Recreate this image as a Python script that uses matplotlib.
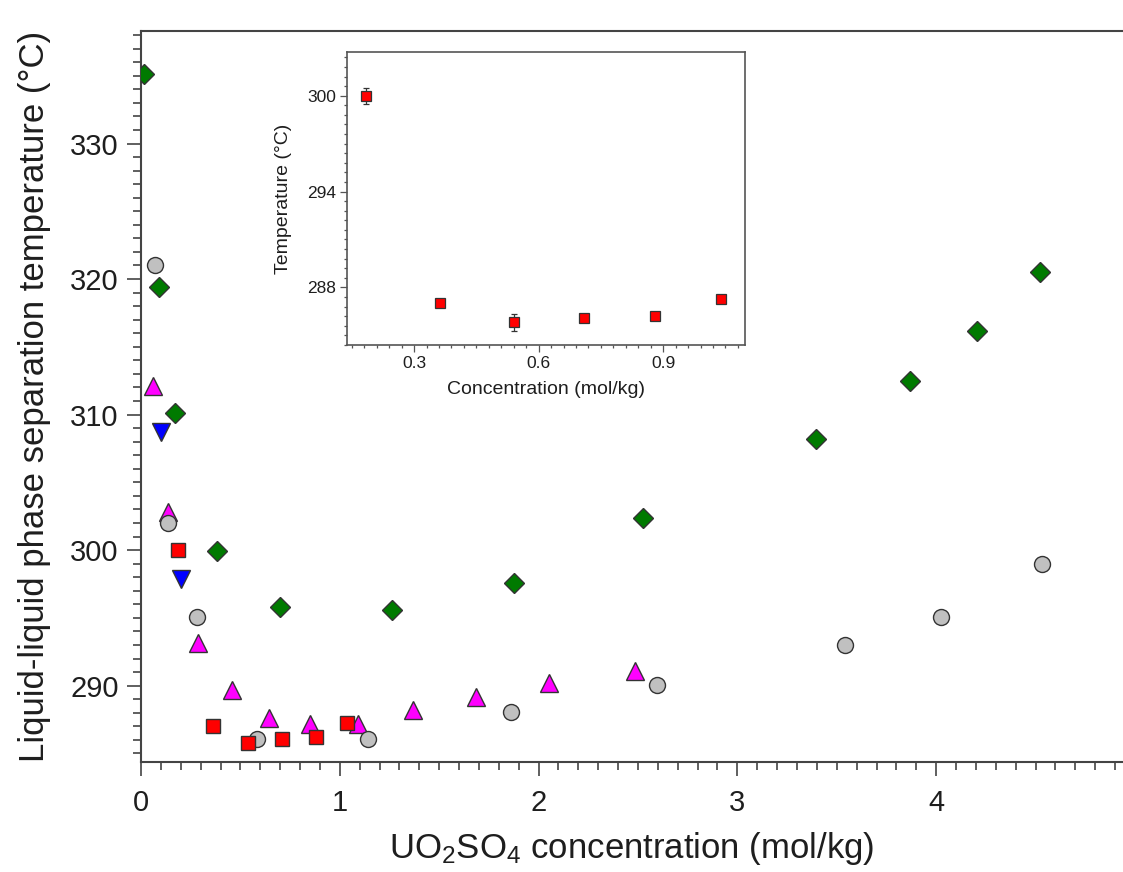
import matplotlib
matplotlib.use("Agg")
import matplotlib.pyplot as plt
from matplotlib.ticker import MultipleLocator

plt.rcParams['font.family'] = ['Liberation Sans', 'DejaVu Sans']
plt.rcParams['mathtext.fontset'] = 'custom'
plt.rcParams['mathtext.rm'] = 'Liberation Sans'
plt.rcParams['mathtext.it'] = 'Liberation Sans:italic'

# ---- data ----
diamond_x = [0.015, 0.089, 0.171, 0.38, 0.70, 1.265, 1.877, 2.526, 3.397, 3.87, 4.207, 4.52]
diamond_y = [335.1, 319.45, 310.1, 299.95, 295.8, 295.55, 297.6, 302.4, 308.2, 312.5, 316.2, 320.5]

tri_x = [0.062, 0.137, 0.285, 0.456, 0.643, 0.85, 1.094, 1.366, 1.686, 2.05, 2.485]
tri_y = [312.1, 302.85, 293.15, 289.7, 287.65, 287.15, 287.15, 288.2, 289.2, 290.2, 291.1]

down_x = [0.099, 0.20]
down_y = [308.75, 297.9]

circle_x = [0.07, 0.137, 0.28, 0.582, 1.141, 1.862, 2.597, 3.543, 4.023, 4.531]
circle_y = [321.0, 302.0, 295.05, 286.05, 286.05, 288.05, 290.05, 293.0, 295.05, 299.0]

square_x = [0.185, 0.362, 0.540, 0.710, 0.880, 1.038]
square_y = [300.0, 287.05, 285.8, 286.05, 286.22, 287.25]
square_err = [0.5, 0.0, 0.55, 0.0, 0.0, 0.0]

text_c = '#1e1e1e'
spine_c = '#444444'
edge_c = '#333333'

fig = plt.figure(figsize=(11.23, 8.72), dpi=100)
ax = fig.add_axes([141/1123, 1-762/872, 1-141/1123, (762-31)/872])

ax.plot(diamond_x, diamond_y, ls='none', marker='D', ms=10.5, mfc='#007a00', mec=edge_c, mew=1.0, zorder=3)
ax.plot(tri_x, tri_y, ls='none', marker='^', ms=13, mfc='#ff00ff', mec=edge_c, mew=1.0, zorder=3)
ax.plot(down_x, down_y, ls='none', marker='v', ms=13, mfc='#0000ff', mec=edge_c, mew=1.0, zorder=3)
ax.plot(circle_x, circle_y, ls='none', marker='o', ms=11.5, mfc='#c0c0c0', mec=edge_c, mew=1.0, zorder=3)
ax.plot(square_x, square_y, ls='none', marker='s', ms=9.8, mfc='#ff0000', mec=edge_c, mew=1.0, zorder=3)

ax.set_xlim(0, 4.94)
ax.set_ylim(284.37, 338.3)
ax.xaxis.set_major_locator(MultipleLocator(1))
ax.xaxis.set_minor_locator(MultipleLocator(0.1))
ax.yaxis.set_major_locator(MultipleLocator(10))
ax.yaxis.set_minor_locator(MultipleLocator(1))
ax.spines['right'].set_visible(False)
for s in ['left', 'bottom', 'top']:
    ax.spines[s].set_color(spine_c)
    ax.spines[s].set_linewidth(1.5)
ax.tick_params(which='both', direction='out', color=spine_c, width=1.2, labelcolor=text_c, labelsize=21, top=False, right=False)
ax.tick_params(which='major', length=10, pad=6)
ax.tick_params(axis='x', which='major', pad=9.5)
ax.tick_params(which='minor', length=5.5)
ax.set_xlabel(r'UO$_2$SO$_4$ concentration (mol/kg)', fontsize=25, color=text_c, labelpad=9)
ax.set_ylabel('Liquid-liquid phase separation temperature (°C)', fontsize=25, color=text_c, labelpad=14)

# ---- inset ----
ins = fig.add_axes([347.3/1123, 1-345/872, (745-347.3)/1123, (345-52.3)/872])
ins.errorbar(square_x, square_y, yerr=square_err, ls='none', marker='s', ms=7.5,
             mfc='#ff0000', mec=edge_c, mew=0.9, ecolor=edge_c, elinewidth=0.9, capsize=2.2, capthick=0.9)
ins.set_xlim(0.139, 1.097)
ins.set_ylim(284.39, 302.72)
ins.xaxis.set_major_locator(MultipleLocator(0.3))
ins.xaxis.set_minor_locator(MultipleLocator(0.03))
ins.yaxis.set_major_locator(MultipleLocator(6))
ins.yaxis.set_minor_locator(MultipleLocator(0.6))
for s in ins.spines.values():
    s.set_color('#555555')
    s.set_linewidth(1.2)
ins.tick_params(which='both', direction='out', color='#555555', width=0.9, labelcolor=text_c, labelsize=12.5)
ins.tick_params(which='major', length=5, pad=3)
ins.tick_params(which='minor', length=2.5)
ins.set_xticks([0.3, 0.6, 0.9])
ins.set_xticklabels(['0.3', '0.6', '0.9'])
ins.set_xlabel('Concentration (mol/kg)', fontsize=14, color=text_c, labelpad=7)
ins.set_ylabel('Temperature (°C)', fontsize=14, color=text_c, labelpad=11)

fig.savefig('out.png', dpi=100)
